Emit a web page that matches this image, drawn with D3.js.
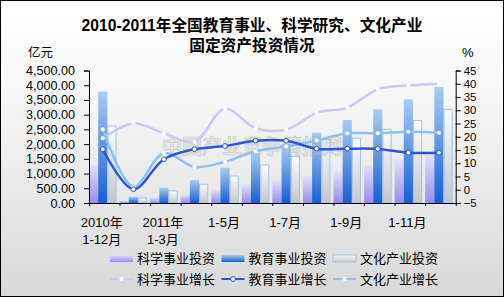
<!DOCTYPE html>
<html>
<head>
<meta charset="utf-8">
<script src="https://cdn.jsdelivr.net/npm/d3@7/dist/d3.min.js"></script>
<style>
  html, body { margin: 0; padding: 0; background: #fff; }
  svg { display: block; }
  text { font-family: 'Liberation Sans', 'Noto Sans CJK SC', sans-serif; fill: #000; }
</style>
</head>
<body>
<div id="chart"></div>
<script>
const categories = ['2010年1-12月', '2011年1-2月', '2011年1-3月', '1-4月', '1-5月', '1-6月',
  '1-7月', '1-8月', '1-9月', '1-10月', '1-11月', '1-12月'];
const scienceInvest = [1290, 80, 190, 300, 475, 645, 780, 920, 1090, 1290, 1495, 1650];
const educationInvest = [3780, 215, 520, 780, 1200, 1700, 2000, 2390, 2820, 3180, 3520, 3940];
const cultureInvest = [2615, 170, 410, 635, 917, 1290, 1580, 2150, 2200, 2500, 2800, 3180];
const scienceGrowth = [19.4, 25.1, 21.3, 18.1, 30.6, 23.2, 22.7, 29.0, 31.0, 37.9, 39.3, 39.9];
const educationGrowth = [15.3, 0.2, 11.5, 15.3, 16.5, 18.5, 18.5, 15.5, 15.5, 15.4, 14.0, 14.0];
const cultureGrowth = [22.8, 1.2, 13.8, 8.6, 10.6, 14.5, 16.3, 18.6, 21.3, 21.3, 21.9, 21.5];
const leftTicks = [0, 500, 1000, 1500, 2000, 2500, 3000, 3500, 4000, 4500];
const rightTicks = [-5, 0, 5, 10, 15, 20, 25, 30, 35, 40, 45];
const titleLines = ['2010-2011年全国教育事业、科学研究、文化产业', '固定资产投资情况'];
const barNames = ['科学事业投资', '教育事业投资', '文化产业投资'];
const lineNames = ['科学事业增长', '教育事业增长', '文化产业增长'];

const width = 504;
const height = 297;
const margin = {
  top: 70.5, right: 48.3, bottom: 94, left: 89,
};

const svg = d3.select('#chart')
  .append('svg')
  .attr('width', width)
  .attr('height', height);

const defs = svg.append('defs');
const vGrad = (id, stops) => {
  const g = defs.append('linearGradient')
    .attr('id', id)
    .attr('x1', 0).attr('y1', 0)
    .attr('x2', 0).attr('y2', 1);
  stops.forEach(([off, col]) => g.append('stop').attr('offset', off).attr('stop-color', col));
};
vGrad('bg', [[0, '#ffffff'], [0.35, '#f6f6f6'], [1, '#d8d8d8']]);
vGrad('sci', [[0, '#e4e1fb'], [1, '#978cec']]);
vGrad('edu', [[0, '#a9cbf2'], [1, '#1560d4']]);
vGrad('cul', [[0, '#fbfcfe'], [1, '#c6c6c8']]);

svg.append('rect')
  .attr('x', 0.5).attr('y', 0.5)
  .attr('width', width - 1).attr('height', height - 1)
  .attr('fill', 'url(#bg)')
  .attr('stroke', '#000');

// title
svg.append('g')
  .selectAll('text')
  .data(titleLines)
  .join('text')
  .attr('x', 252)
  .attr('y', (d, i) => 25 + i * 20)
  .attr('dy', '0.36em')
  .attr('text-anchor', 'middle')
  .attr('font-size', 15.7)
  .attr('font-weight', 'bold')
  .text((d) => d);

const x = d3.scaleBand()
  .domain(categories)
  .range([margin.left, width - margin.right]);

const sub = d3.scaleBand()
  .domain(['sci', 'edu', 'cul'])
  .range([0, x.bandwidth() - 3]);

const yL = d3.scaleLinear()
  .domain([0, 4500])
  .range([height - margin.bottom, margin.top]);

const yR = d3.scaleLinear()
  .domain([-5, 45])
  .range(yL.range());

const midX = (d) => x(d) + sub('edu') + sub.bandwidth() / 2;

// bars
const barSeries = [
  { key: 'sci', values: scienceInvest, stroke: 'none' },
  { key: 'edu', values: educationInvest, stroke: 'none' },
  { key: 'cul', values: cultureInvest, stroke: '#9fc3ec' },
];

barSeries.forEach((s) => {
  svg.append('g')
    .selectAll('rect')
    .data(s.values)
    .join('rect')
    .attr('x', (d, i) => x(categories[i]) + sub(s.key) + (s.stroke === 'none' ? 0 : 0.5))
    .attr('y', (d) => yL(d))
    .attr('width', sub.bandwidth() - (s.stroke === 'none' ? 0 : 1))
    .attr('height', (d) => yL(0) - yL(d))
    .attr('fill', `url(#${s.key})`)
    .attr('stroke', s.stroke)
    .attr('stroke-width', 1);
});

// watermark
svg.append('text')
  .attr('x', 252)
  .attr('y', 147)
  .attr('dy', '0.36em')
  .attr('text-anchor', 'middle')
  .attr('font-size', 20)
  .attr('font-weight', 'bold')
  .attr('font-family', 'Noto Sans CJK SC')
  .style('fill', 'rgba(200,200,210,0.3)')
  .attr('stroke', 'rgba(150,150,160,0.4)')
  .attr('stroke-width', 0.7)
  .text('中国产业竞争情报网');

// lines
const line = d3.line()
  .x((d, i) => midX(categories[i]))
  .y((d) => yR(d))
  .curve(d3.curveCatmullRom.alpha(0.5));

const lineSeries = [
  { values: scienceGrowth, color: '#cdc7f3', dot: 'none', r: 2 },
  { values: cultureGrowth, color: '#8cc0f3', dot: 'none', r: 2 },
  { values: educationGrowth, color: '#2d55d8', dot: '#2d55d8', r: 2.4 },
];

lineSeries.forEach((s) => {
  svg.append('path')
    .datum(s.values)
    .attr('fill', 'none')
    .attr('stroke', s.color)
    .attr('stroke-width', 2.5)
    .attr('stroke-linejoin', 'round')
    .attr('d', line);

  svg.append('g')
    .selectAll('circle')
    .data(s.values)
    .join('circle')
    .attr('cx', (d, i) => midX(categories[i]))
    .attr('cy', (d) => yR(d))
    .attr('r', s.r)
    .attr('fill', '#fff')
    .attr('stroke', s.dot)
    .attr('stroke-width', 1);
});

// axes
const styleAxis = (g) => {
  g.select('.domain').attr('stroke', '#000');
  g.selectAll('.tick line').attr('stroke', '#000');
  g.selectAll('.tick text')
    .attr('font-size', 12.6)
    .attr('font-family', 'Liberation Sans')
    .style('fill', '#000');
};

svg.append('g')
  .attr('transform', `translate(${margin.left},0)`)
  .call(d3.axisLeft(yL).tickValues(leftTicks).tickSize(5).tickPadding(9)
    .tickFormat(d3.format(',.2f')))
  .call(styleAxis);

svg.append('g')
  .attr('transform', `translate(${width - margin.right},0)`)
  .call(d3.axisRight(yR).tickValues(rightTicks).tickSize(5).tickPadding(3))
  .call(styleAxis)
  .call((g) => g.selectAll('.tick text').attr('font-size', 11.4));

const xEdge = d3.scaleLinear()
  .domain([0, categories.length])
  .range(x.range());

svg.append('g')
  .attr('transform', `translate(0,${yL(0)})`)
  .call(d3.axisBottom(xEdge).tickValues(d3.range(categories.length + 1))
    .tickSize(3).tickSizeOuter(0).tickFormat(''))
  .call(styleAxis);

// category labels, every other one, wrapped after 年
const catLabels = svg.append('g')
  .selectAll('text')
  .data(categories.filter((d, i) => i % 2 === 0))
  .join('text')
  .attr('x', (d) => midX(d) - 1)
  .attr('y', 222.5)
  .attr('text-anchor', 'middle')
  .attr('font-size', 13);

catLabels.each(function (d) {
  const cut = d.indexOf('年') + 1;
  const parts = cut > 0 ? [d.slice(0, cut), d.slice(cut)] : [d];
  d3.select(this).selectAll('tspan')
    .data(parts)
    .join('tspan')
    .attr('x', midX(d) - 1)
    .attr('dy', (p, j) => (j === 0 ? '0.36em' : 17))
    .text((p) => p);
});

// axis unit labels
svg.append('text')
  .attr('x', 28).attr('y', 52).attr('dy', '0.36em')
  .attr('font-size', 12.5)
  .text('亿元');

svg.append('text')
  .attr('x', 462).attr('y', 52).attr('dy', '0.36em')
  .attr('font-size', 13)
  .text('%');

// legend
const legendX = (i) => 110 + i * 111.5;
const legend = svg.append('g');

barNames.forEach((name, i) => {
  const { key } = barSeries[i];
  legend.append('rect')
    .attr('x', legendX(i))
    .attr('y', 255)
    .attr('width', 23)
    .attr('height', 7)
    .attr('fill', `url(#${key})`)
    .attr('stroke', barSeries[i].stroke);
  legend.append('text')
    .attr('x', legendX(i) + 27)
    .attr('y', 258.5)
    .attr('dy', '0.36em')
    .attr('font-size', 13)
    .text(name);
});

const lineOrder = [lineSeries[0], lineSeries[2], lineSeries[1]];
lineNames.forEach((name, i) => {
  const s = lineOrder[i];
  legend.append('line')
    .attr('x1', legendX(i)).attr('x2', legendX(i) + 23)
    .attr('y1', 279).attr('y2', 279)
    .attr('stroke', s.color)
    .attr('stroke-width', 2);
  legend.append('circle')
    .attr('cx', legendX(i) + 11.5)
    .attr('cy', 279)
    .attr('r', s.r)
    .attr('fill', '#fff')
    .attr('stroke', s.dot);
  legend.append('text')
    .attr('x', legendX(i) + 27)
    .attr('y', 279)
    .attr('dy', '0.36em')
    .attr('font-size', 13)
    .text(name);
});
</script>
</body>
</html>
